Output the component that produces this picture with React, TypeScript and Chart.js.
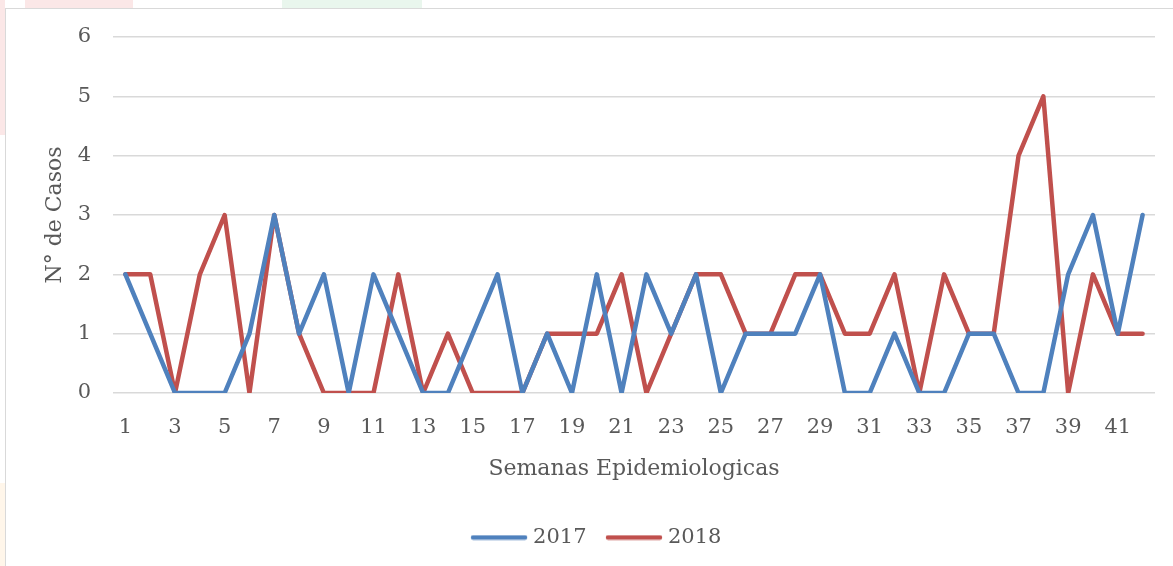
import React, { useEffect, useRef } from "react";
import { Chart, registerables } from "chart.js";

Chart.register(...registerables);

const weeks: string[] = Array.from({ length: 42 }, (_, i) => String(i + 1));
const cases2017: number[] = [2, 1, 0, 0, 0, 1, 3, 1, 2, 0, 2, 1, 0, 0, 1, 2, 0, 1, 0, 2, 0, 2, 1, 2, 0, 1, 1, 1, 2, 0, 0, 1, 0, 0, 1, 1, 0, 0, 2, 3, 1, 3];
const cases2018: number[] = [2, 2, 0, 2, 3, 0, 3, 1, 0, 0, 0, 2, 0, 1, 0, 0, 0, 1, 1, 1, 2, 0, 1, 2, 2, 1, 1, 2, 2, 1, 1, 2, 0, 2, 1, 1, 4, 5, 0, 2, 1, 1];
const seriesNames: string[] = ["2017", "2018"];
const seriesColors: string[] = ["#4F81BD", "#C0504D"];
const xTitle = "Semanas Epidemiologicas";
const yTitle = "N° de Casos";

const FONT = "'DejaVu Serif', serif";
const TEXT = "#595959";
const W = 1173;
const H = 566;
const PAD_BOTTOM = 8;
const PLOT_BOTTOM = 393;

function swatch(color: string): HTMLCanvasElement {
  const c = document.createElement("canvas");
  c.width = 58;
  c.height = 6;
  const ctx = c.getContext("2d")!;
  ctx.strokeStyle = color;
  ctx.lineWidth = 4.5;
  ctx.lineCap = "round";
  ctx.beginPath();
  ctx.moveTo(3, 3);
  ctx.lineTo(55, 3);
  ctx.stroke();
  return c;
}

export default function App() {
  const ref = useRef<HTMLCanvasElement | null>(null);
  useEffect(() => {
    if (!ref.current) return;
    const mk = (i: number, data: number[]) => ({
      label: seriesNames[i],
      data,
      borderColor: seriesColors[i],
      backgroundColor: seriesColors[i],
      borderWidth: 4.5,
      pointRadius: 0,
      pointStyle: swatch(seriesColors[i]),
      tension: 0,
      borderCapStyle: "round" as const,
      borderJoinStyle: "round" as const,
    });
    const chart = new Chart(ref.current, {
      type: "line",
      data: {
        labels: weeks,
        datasets: [mk(0, cases2017), mk(1, cases2018)],
      },
      options: {
        responsive: false,
        animation: false,
        layout: { padding: { left: 42, right: 18, top: 37, bottom: PAD_BOTTOM } },
        plugins: {
          tooltip: { enabled: false },
          legend: {
            position: "bottom",
            labels: {
              usePointStyle: true,
              pointStyleWidth: 47,
              boxHeight: 6,
              padding: 24,
              color: TEXT,
              font: { family: FONT, size: 21 },
            },
          },
        },
        scales: {
          x: {
            offset: true,
            grid: { display: false, drawTicks: false },
            border: { display: false },
            ticks: {
              autoSkip: false,
              maxRotation: 0,
              padding: 22,
              color: TEXT,
              font: { family: FONT, size: 21 },
              callback: (_v: any, i: number) => (i % 2 === 0 ? weeks[i] : ""),
            },
            title: {
              display: true,
              text: xTitle,
              color: TEXT,
              font: { family: FONT, size: 22 },
              padding: { top: 0, bottom: 21 },
            },
            afterFit: (scale: any) => {
              const lh = scale.chart.legend ? scale.chart.legend.height : 50;
              scale.height = H - PLOT_BOTTOM - lh - PAD_BOTTOM;
            },
          },
          y: {
            min: 0,
            max: 6,
            grid: { color: "#d9d9d9", lineWidth: 1.5, drawTicks: false },
            border: { display: false },
            ticks: {
              stepSize: 1,
              padding: 22,
              color: TEXT,
              font: { family: FONT, size: 21 },
            },
            title: {
              display: true,
              text: yTitle,
              color: TEXT,
              font: { family: FONT, size: 22 },
              padding: { top: 0, bottom: 0 },
            },
            afterFit: (scale: any) => {
              scale.width = 71;
            },
          },
        },
      },
    });
    return () => chart.destroy();
  }, []);

  return (
    <div style={{ position: "fixed", left: 0, top: 0, width: W, height: H, background: "#fff", overflow: "hidden" }}>
      <div style={{ position: "absolute", left: 0, top: 0, width: 5, height: 135, background: "#fbe7e7" }} />
      <div style={{ position: "absolute", left: 0, top: 483, width: 5, height: 83, background: "#fff6ea" }} />
      <div style={{ position: "absolute", left: 25, top: 0, width: 108, height: 8, background: "#fbe7e7" }} />
      <div style={{ position: "absolute", left: 282, top: 0, width: 140, height: 8, background: "#e9f6ed" }} />
      <div
        style={{
          position: "absolute",
          left: 5,
          top: 8,
          width: W,
          height: H,
          borderTop: "1.5px solid #d9d9d9",
          borderLeft: "1.5px solid #d9d9d9",
        }}
      />
      <canvas ref={ref} width={W} height={H} style={{ position: "absolute", left: 0, top: 0 }} />
    </div>
  );
}
